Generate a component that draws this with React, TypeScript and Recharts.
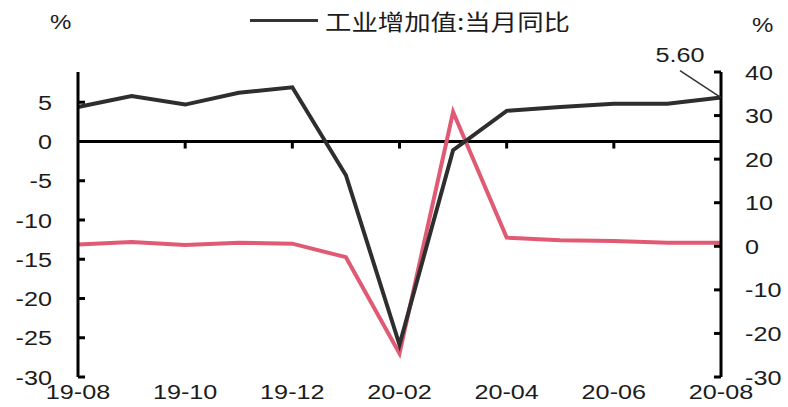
import React from "react";
import { LineChart, Line, XAxis, YAxis, ReferenceLine, LabelList } from "recharts";

const months = ["19-08", "19-09", "19-10", "19-11", "19-12", "20-01", "20-02", "20-03", "20-04", "20-05", "20-06", "20-07", "20-08"];
const valueAddedYoY = [4.4, 5.8, 4.7, 6.2, 6.9, -4.3, -25.9, -1.1, 3.9, 4.4, 4.8, 4.8, 5.6];
const rightSeries = [0.4, 1.0, 0.3, 0.8, 0.6, -2.5, -24.6, 30.8, 2.0, 1.4, 1.2, 0.8, 0.8];
const leftTicks = [-30, -25, -20, -15, -10, -5, 0, 5];
const rightTicks = [-30, -20, -10, 0, 10, 20, 30, 40];
const zeroLineTicks = ["19-10", "19-12", "20-02", "20-04", "20-06"];

const data = months.map((m, i) => ({ month: m, iav: valueAddedYoY[i], other: rightSeries[i] }));

const FONT = "'Liberation Sans', Arial, sans-serif";
const TEXT = "#1c1c1c";
const SX = 1.2;

const LeftTick = (props: any) => {
    const { x, y, payload } = props;
    const ax = x + 26;
    return (
        <g>
            <line x1={ax} x2={ax + 7} y1={y} y2={y} stroke="#000" strokeWidth={3} />
            <text x={0} y={0} transform={`translate(${x},${y}) scale(${SX},1)`} textAnchor="end" dy="0.36em" fontSize={21} fontFamily={FONT} fill={TEXT}>
                {payload.value}
            </text>
        </g>
    );
};

const RightTick = (props: any) => {
    const { x, y, payload } = props;
    const ax = x - 24;
    return (
        <g>
            <line x1={ax - 7} x2={ax} y1={y} y2={y} stroke="#000" strokeWidth={3} />
            <text x={0} y={0} transform={`translate(${x},${y}) scale(${SX},1)`} textAnchor="start" dy="0.36em" fontSize={21} fontFamily={FONT} fill={TEXT}>
                {payload.value}
            </text>
        </g>
    );
};

const BottomTick = (props: any) => {
    const { x, y, payload } = props;
    return (
        <text x={0} y={0} transform={`translate(${x},${y}) scale(${SX},1)`} textAnchor="middle" dy="0.71em" fontSize={21} fontFamily={FONT} fill={TEXT}>
            {payload.value}
        </text>
    );
};

const LastValueLabel = (props: any) => {
    const { x, y, index, value } = props;
    if (index !== months.length - 1) return null;
    return (
        <g>
            <line x1={x - 41} y1={y - 27} x2={x} y2={y} stroke="#333" strokeWidth={1.5} />
            <text x={0} y={0} transform={`translate(${x - 41},${y - 36}) scale(${SX},1)`} textAnchor="middle" fontSize={21} fontFamily={FONT} fill={TEXT}>
                {Number(value).toFixed(2)}
            </text>
        </g>
    );
};

export default function App() {
    return (
        <div style={{ position: "fixed", left: 0, top: 0, width: 788, height: 407, background: "#fff" }}>
            <div style={{ position: "absolute", left: 250, top: 19, width: 68, height: 3, background: "#333" }} />
            <div
                style={{
                    position: "absolute",
                    left: 325,
                    top: 6,
                    fontSize: 22,
                    lineHeight: "28px",
                    fontFamily: "'Noto Sans CJK SC', sans-serif",
                    color: TEXT,
                    transform: `scaleX(${SX})`,
                    transformOrigin: "left",
                    whiteSpace: "nowrap",
                }}
            >
                工业增加值:当月同比
            </div>
            <div style={{ position: "absolute", left: 50, top: 11, fontSize: 20, fontFamily: FONT, color: TEXT, transform: `scaleX(${SX})`, transformOrigin: "left" }}>%</div>
            <div style={{ position: "absolute", left: 752, top: 14, fontSize: 20, fontFamily: FONT, color: TEXT, transform: `scaleX(${SX})`, transformOrigin: "left" }}>%</div>
            <LineChart width={788} height={407} data={data} margin={{ top: 72, right: 0, bottom: 0, left: 0 }}>
                <XAxis dataKey="month" interval={1} axisLine={false} tickLine={false} tickSize={0} tickMargin={7} height={30} tick={<BottomTick />} />
                <YAxis
                    yAxisId="left"
                    domain={[-30, 8.85]}
                    ticks={leftTicks}
                    width={78}
                    axisLine={{ stroke: "#000", strokeWidth: 3 }}
                    tickLine={false}
                    tickSize={0}
                    tickMargin={26}
                    tick={<LeftTick />}
                    allowDataOverflow
                />
                <YAxis
                    yAxisId="right"
                    orientation="right"
                    domain={[-30, 40]}
                    ticks={rightTicks}
                    width={67}
                    axisLine={{ stroke: "#000", strokeWidth: 3 }}
                    tickLine={false}
                    tickSize={0}
                    tickMargin={24}
                    tick={<RightTick />}
                />
                <ReferenceLine yAxisId="left" y={0} stroke="#000" strokeWidth={3} />
                {zeroLineTicks.map((m) => (
                    <ReferenceLine
                        key={m}
                        yAxisId="left"
                        segment={[
                            { x: m, y: 0 },
                            { x: m, y: -0.9 },
                        ]}
                        stroke="#000"
                        strokeWidth={3}
                    />
                ))}
                <Line yAxisId="right" dataKey="other" stroke="#E05A74" strokeWidth={4} dot={false} isAnimationActive={false} />
                <Line yAxisId="left" dataKey="iav" stroke="#2e2e2e" strokeWidth={4} dot={false} isAnimationActive={false}>
                    <LabelList dataKey="iav" content={<LastValueLabel />} />
                </Line>
            </LineChart>
        </div>
    );
}
